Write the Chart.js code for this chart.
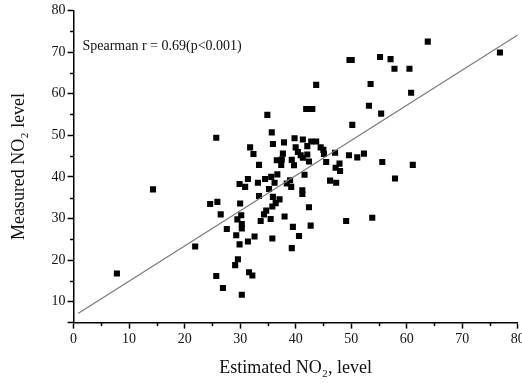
<!DOCTYPE html>
<html>
<head>
<meta charset="utf-8">
<script src="https://cdn.jsdelivr.net/npm/chart.js@4"></script>
<style>
  html, body { margin: 0; padding: 0; background: #fff; }
  #wrap { width: 522px; height: 383px; }
</style>
</head>
<body>
<div id="wrap"><canvas id="myChart"></canvas></div>
<script>
// values
const estimated = [7.8, 14.3, 21.9, 24.6, 25.9, 25.7, 26.5, 25.7, 26.9, 27.6, 29.3, 29.5, 29.9, 30.0, 29.9, 29.6, 29.1, 30.2, 30.3, 30.3, 30.3, 30.9, 31.4, 31.4, 31.6, 32.2, 31.8, 32.4, 32.6, 33.2, 33.4, 33.4, 33.7, 34.3, 34.5, 34.9, 34.7, 35.2, 35.5, 35.7, 35.6, 35.8, 35.9, 35.9, 35.8, 36.2, 36.4, 36.6, 36.7, 37.1, 37.4, 37.5, 37.7, 37.9, 38.0, 38.4, 39.0, 39.2, 39.3, 39.3, 39.5, 39.7, 39.8, 40.0, 40.4, 40.6, 40.9, 41.3, 41.2, 41.2, 41.6, 41.3, 41.9, 42.5, 43.0, 42.1, 42.1, 42.4, 42.4, 42.7, 42.8, 43.7, 43.7, 44.5, 45.0, 45.1, 45.5, 46.2, 47.1, 47.2, 47.3, 47.9, 48.0, 49.1, 49.6, 49.7, 50.1, 50.2, 51.1, 52.3, 53.2, 53.5, 53.8, 55.2, 55.4, 55.6, 57.1, 57.8, 57.9, 60.5, 60.8, 61.1, 63.8, 76.8];
const measured = [16.8, 37.0, 23.3, 33.5, 34.0, 49.4, 31.0, 16.2, 13.3, 27.5, 26.0, 29.8, 38.3, 33.6, 23.8, 20.2, 18.8, 30.8, 28.7, 27.6, 11.7, 37.6, 39.5, 24.5, 17.1, 16.3, 47.1, 45.5, 25.7, 38.6, 42.9, 35.4, 29.4, 31.0, 39.5, 54.9, 31.9, 37.1, 29.9, 50.7, 40.0, 32.9, 35.2, 47.9, 25.2, 38.6, 33.7, 44.0, 40.6, 34.6, 42.9, 44.2, 45.6, 48.3, 30.5, 38.4, 39.2, 37.6, 44.1, 22.9, 28.0, 42.8, 49.3, 47.1, 46.0, 25.8, 45.2, 49.0, 36.8, 35.9, 40.5, 44.6, 56.3, 56.3, 56.3, 45.4, 47.4, 43.7, 32.7, 28.3, 48.5, 62.1, 48.5, 47.1, 46.5, 45.5, 43.6, 39.1, 45.8, 42.2, 38.6, 43.2, 41.4, 29.4, 45.2, 68.1, 68.1, 52.5, 44.7, 45.6, 57.1, 62.3, 30.2, 68.8, 55.2, 43.6, 68.3, 66.0, 39.6, 66.0, 60.2, 42.9, 72.5, 69.9];
const fitX = [0.8, 80];
const fitY = [7.2, 74.1];
const xTicks = [0, 10, 20, 30, 40, 50, 60, 70, 80];
const yTicks = [10, 20, 30, 40, 50, 60, 70, 80];
const xMinor = [5, 15, 25, 35, 45, 55, 65, 75];
const yMinor = [15, 25, 35, 45, 55, 65, 75];
const statText = 'Spearman r = 0.69(p<0.001)';

const serif = "'Liberation Serif', 'Times New Roman', serif";

const points = estimated.map((x, i) => ({ x: x, y: measured[i] }));
const fitLine = fitX.map((x, i) => ({ x: x, y: fitY[i] }));

// text label + short minor ticks
const extras = {
    id: 'extras',
    afterDraw(chart) {
        const c = chart.ctx;
        const xs = chart.scales.x, ys = chart.scales.y;
        const a = chart.chartArea;
        c.save();
        c.strokeStyle = '#000';
        c.lineWidth = 1.5;
        c.beginPath();
        xMinor.forEach(v => {
            const px = Math.round(xs.getPixelForValue(v)) + 0.5;
            c.moveTo(px, a.bottom);
            c.lineTo(px, a.bottom + 3.5);
        });
        yMinor.forEach(v => {
            const py = Math.round(ys.getPixelForValue(v)) + 0.5;
            c.moveTo(a.left, py);
            c.lineTo(a.left - 3.5, py);
        });
        c.stroke();
        c.fillStyle = '#111';
        c.font = "14px " + serif;
        c.textBaseline = 'middle';
        c.fillText(statText, xs.getPixelForValue(1.6), ys.getPixelForValue(71.3));
        c.restore();
    }
};

const ctx = document.getElementById('myChart').getContext('2d');
const myChart = new Chart(ctx, {
    type: 'scatter',
    data: {
        datasets: [{
            label: 'fit',
            type: 'line',
            data: fitLine,
            borderColor: '#7a7a7a',
            borderWidth: 1.2,
            pointRadius: 0,
            fill: false
        }, {
            label: 'points',
            data: points,
            pointStyle: 'rect',
            pointRadius: 4.3,
            backgroundColor: '#000',
            borderColor: '#000',
            borderWidth: 0
        }]
    },
    options: {
        responsive: true,
        maintainAspectRatio: false,
        animation: false,
        layout: { padding: { top: 2, right: 0, left: 8, bottom: 4 } },
        plugins: {
            legend: { display: false },
            tooltip: { enabled: false }
        },
        scales: {
            x: {
                type: 'linear',
                min: 0,
                max: 80,
                afterFit: s => { s.paddingRight = 4; },
                border: { color: '#000', width: 1.5 },
                grid: { drawOnChartArea: false, color: '#000', tickLength: 6, tickWidth: 1.5 },
                ticks: {
                    stepSize: 10,
                    color: '#111',
                    padding: 2,
                    maxRotation: 0,
                    autoSkip: false,
                    font: { family: serif, size: 14 },
                    callback: v => xTicks.includes(v) ? String(v) : ''
                },
                title: {
                    display: true,
                    text: 'Estimated NO₂, level',
                    color: '#111',
                    font: { family: serif, size: 18 },
                    padding: { top: 8, bottom: 0 }
                }
            },
            y: {
                type: 'linear',
                min: 5,
                max: 80,
                border: { color: '#000', width: 1.5 },
                grid: { drawOnChartArea: false, color: '#000', tickLength: 6, tickWidth: 1.5 },
                ticks: {
                    stepSize: 10,
                    color: '#111',
                    padding: 2,
                    autoSkip: false,
                    font: { family: serif, size: 14 },
                    callback: v => yTicks.includes(v) ? String(v) : ''
                },
                title: {
                    display: true,
                    text: 'Measured NO₂ level',
                    color: '#111',
                    font: { family: serif, size: 18 },
                    padding: { top: 0, bottom: 20 }
                }
            }
        }
    },
    plugins: [extras]
});
</script>
</body>
</html>
